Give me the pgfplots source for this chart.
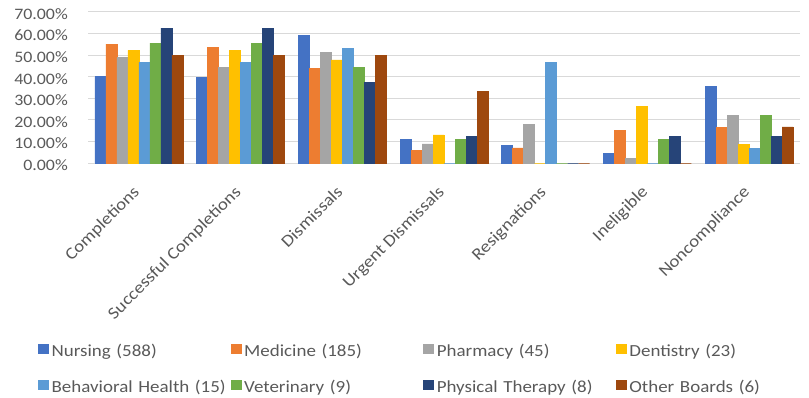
\documentclass[border=0pt]{standalone}
\usepackage{pgfplots}
\pgfplotsset{compat=1.18}
\usepackage{fontspec}
\setmainfont{Carlito}[FakeStretch=1.12]
\definecolor{cNur}{HTML}{4472C4}
\definecolor{cMed}{HTML}{ED7D31}
\definecolor{cPha}{HTML}{A5A5A5}
\definecolor{cDen}{HTML}{FFC000}
\definecolor{cBeh}{HTML}{5B9BD5}
\definecolor{cVet}{HTML}{70AD47}
\definecolor{cPhy}{HTML}{264478}
\definecolor{cOth}{HTML}{9E480E}
\definecolor{txt}{HTML}{595959}
\definecolor{grd}{HTML}{D9D9D9}
\begin{document}
\begin{tikzpicture}[x=1bp,y=1bp]
\useasboundingbox (0,0) rectangle (809,397);
\begin{axis}[
  at={(88bp,234bp)}, anchor=south west,
  scale only axis, width=712bp, height=151bp,
  ybar=0pt, bar width=11bp,
  xmin=-0.5, xmax=6.5, ymin=0, ymax=70,
  xtick={0,...,6},
  xticklabels={Completions, Successful Completions, Dismissals, Urgent Dismissals, Resignations, Ineligible, Noncompliance},
  xticklabel style={rotate=45, anchor=north east, font=\fontsize{17}{17}\selectfont, text=txt, inner sep=0pt, xshift=-17bp, yshift=-7bp},
  ytick={0,10,...,70},
  yticklabels={0.00\%,10.00\%,20.00\%,30.00\%,40.00\%,50.00\%,60.00\%,70.00\%},
  yticklabel style={font=\fontsize{16}{16}\selectfont, text=txt, inner sep=0pt, xshift=-20bp, yshift=-2bp},
  ymajorgrids, grid style={draw=grd, line width=1bp},
  axis line style={draw=none}, tick style={draw=none},
  every axis plot/.append style={line width=0.6bp},
  legend columns=4,
  legend image code/.code={\fill[#1] (0bp,-0.5bp) rectangle (10bp,8.5bp);},
  legend style={draw=none, fill=none, at={(-0.0702,-1.199)}, anchor=north west,
    inner sep=0pt, outer sep=0pt,
    font=\fontsize{17}{17}\selectfont, text=txt,
    nodes={inner sep=0pt, text height=12bp, text depth=4bp, text width=179bp, align=left},
    /tikz/every odd column/.append style={column sep=3bp},
    /tikz/every even column/.append style={column sep=0bp},
    row sep=19bp},
]
\addplot[fill=cNur, draw=cNur] coordinates {(0,40.0) (1,39.6) (2,59.0) (3,10.9) (4,8.2) (5,4.3) (6,35.5)};
\addlegendentry{Nursing (588)}
\addplot[fill=cMed, draw=cMed] coordinates {(0,55.1) (1,53.5) (2,44.0) (3,5.9) (4,7.0) (5,15.1) (6,16.5)};
\addlegendentry{Medicine (185)}
\addplot[fill=cPha, draw=cPha] coordinates {(0,48.9) (1,44.4) (2,51.1) (3,8.9) (4,17.8) (5,2.2) (6,22.2)};
\addlegendentry{Pharmacy (45)}
\addplot[fill=cDen, draw=cDen] coordinates {(0,52.2) (1,52.2) (2,47.8) (3,13.0) (4,0) (5,26.1) (6,8.7)};
\addlegendentry{Dentistry (23)}
\addplot[fill=cBeh, draw=cBeh] coordinates {(0,46.7) (1,46.7) (2,53.3) (3,0) (4,46.7) (5,0) (6,6.7)};
\addlegendentry{Behavioral Health (15)}
\addplot[fill=cVet, draw=cVet] coordinates {(0,55.6) (1,55.6) (2,44.4) (3,11.1) (4,0) (5,11.1) (6,22.2)};
\addlegendentry{Veterinary (9)}
\addplot[fill=cPhy, draw=cPhy] coordinates {(0,62.5) (1,62.5) (2,37.5) (3,12.5) (4,0) (5,12.5) (6,12.5)};
\addlegendentry{Physical Therapy (8)}
\addplot[fill=cOth, draw=cOth] coordinates {(0,50.0) (1,50.0) (2,50.0) (3,33.3) (4,0) (5,0) (6,16.7)};
\addlegendentry{Other Boards (6)}
\end{axis}
\end{tikzpicture}
\end{document}
